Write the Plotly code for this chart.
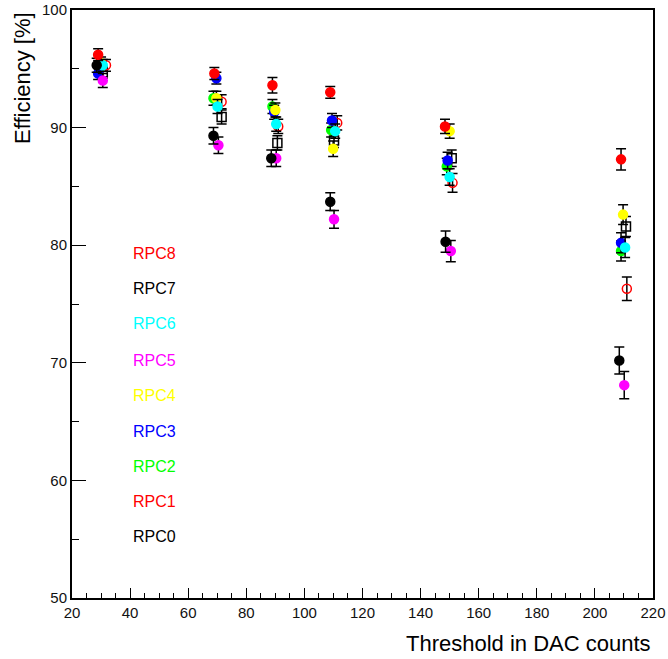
import plotly.graph_objects as go

names = ["RPC8", "RPC7", "RPC6", "RPC5", "RPC4", "RPC3", "RPC2", "RPC1", "RPC0"]
colors = ["#ff0000", "#000000", "#00ffff", "#ff00ff", "#ffff00", "#0000ff", "#00ff00", "#ff0000", "#000000"]
symbols = ["circle", "circle", "circle", "circle", "circle", "circle", "circle", "circle-open", "square-open"]

x_rpc8 = [29.0, 69.0, 89.0, 108.9, 148.4, 209.0]
x_rpc7 = [28.5, 68.7, 88.6, 108.9, 148.6, 208.4]
x_rpc6 = [30.6, 70.1, 90.3, 110.6, 150.0, 210.4]
x_rpc5 = [30.6, 70.4, 90.3, 110.2, 150.4, 210.1]
x_rpc4 = [30.0, 69.7, 90.0, 109.9, 150.0, 209.7]
x_rpc3 = [29.0, 69.7, 89.6, 109.5, 149.3, 209.0]
x_rpc2 = [29.3, 68.7, 89.0, 109.2, 149.0, 209.0]
x_rpc1 = [31.7, 71.5, 91.0, 111.3, 151.0, 211.0]
x_rpc0 = [30.6, 71.5, 90.7, 110.2, 150.7, 210.7]

y_rpc8 = [96.2, 94.6, 93.6, 93.0, 90.1, 87.3]
y_rpc7 = [95.3, 89.3, 87.4, 83.7, 80.3, 70.2]
y_rpc6 = [95.3, 91.8, 90.3, 89.7, 85.8, 79.8]
y_rpc5 = [94.0, 88.5, 87.4, 82.2, 79.5, 68.1]
y_rpc4 = [95.5, 92.5, 91.5, 88.2, 89.7, 82.6]
y_rpc3 = [94.6, 94.2, 91.3, 90.6, 87.2, 80.2]
y_rpc2 = [95.1, 92.5, 91.8, 89.8, 86.7, 79.5]
y_rpc1 = [95.3, 92.2, 90.1, 90.4, 85.3, 76.3]
y_rpc0 = [94.7, 90.9, 88.7, 88.9, 87.4, 81.6]

e_rpc8 = [0.5, 0.5, 0.65, 0.5, 0.6, 0.9]
e_rpc7 = [0.6, 0.7, 0.7, 0.75, 0.9, 1.15]
e_rpc6 = [0.5, 0.6, 0.6, 0.6, 0.7, 0.85]
e_rpc5 = [0.6, 0.7, 0.7, 0.75, 0.9, 1.15]
e_rpc4 = [0.5, 0.6, 0.6, 0.65, 0.6, 0.85]
e_rpc3 = [0.5, 0.5, 0.6, 0.6, 0.7, 0.85]
e_rpc2 = [0.5, 0.6, 0.6, 0.6, 0.7, 0.85]
e_rpc1 = [0.5, 0.6, 0.6, 0.6, 0.8, 1.0]
e_rpc0 = [0.5, 0.6, 0.6, 0.6, 0.7, 0.85]

xs = [x_rpc8, x_rpc7, x_rpc6, x_rpc5, x_rpc4, x_rpc3, x_rpc2, x_rpc1, x_rpc0]
ys = [y_rpc8, y_rpc7, y_rpc6, y_rpc5, y_rpc4, y_rpc3, y_rpc2, y_rpc1, y_rpc0]
es = [e_rpc8, e_rpc7, e_rpc6, e_rpc5, e_rpc4, e_rpc3, e_rpc2, e_rpc1, e_rpc0]

label_x = 40.3
label_y = [79.3, 76.3, 73.3, 70.2, 67.2, 64.2, 61.2, 58.2, 55.2]

font = "Liberation Sans, Arial, Helvetica, sans-serif"

PW, PH = 581, 588
L, T = 72, 10
W, H = 668, 659

fig = go.Figure()
for i in reversed(range(len(names))):
    fig.add_trace(go.Scatter(
        x=xs[i], y=ys[i], mode="markers", name=names[i],
        marker=dict(symbol=symbols[i], color=colors[i], size=9,
                    line=dict(width=1.5, color=colors[i])),
        error_y=dict(type="data", array=es[i], visible=True,
                     color="black", thickness=1.5, width=5),
        showlegend=False,
    ))

for i, n in enumerate(names):
    fig.add_annotation(x=label_x, y=label_y[i], xref="x", yref="y",
                       text=n, showarrow=False, xanchor="left", yanchor="middle",
                       font=dict(family=font, size=16, color=colors[i]))

fig.add_annotation(x=-50 / PW, y=1.0, xref="paper", yref="paper",
                   text="Efficiency [%]", textangle=-90, showarrow=False,
                   xanchor="center", yanchor="top",
                   font=dict(family=font, size=22, color="black"))
fig.add_annotation(x=1.0, y=-45 / PH, xref="paper", yref="paper",
                   text="Threshold in DAC counts", showarrow=False,
                   xanchor="right", yanchor="middle",
                   font=dict(family=font, size=22, color="black"))

fig.update_layout(
    width=W, height=H,
    margin=dict(l=L, r=W - L - PW, t=T, b=H - T - PH),
    paper_bgcolor="white", plot_bgcolor="white",
    font=dict(family=font, size=15, color="#111111"),
)
fig.update_xaxes(range=[20, 220], dtick=20, tick0=20, showline=True, mirror=True,
                 automargin=False,
                 linecolor="black", linewidth=2, ticks="inside", ticklen=10,
                 tickcolor="black", tickwidth=1, showgrid=False, zeroline=False,
                 minor=dict(dtick=5, tick0=20, ticks="inside", ticklen=5, tickcolor="black", showgrid=False))
fig.update_yaxes(range=[50, 100], dtick=10, tick0=50, showline=True, mirror=True,
                 automargin=False,
                 linecolor="black", linewidth=2, ticks="inside", ticklen=14,
                 tickcolor="black", tickwidth=1, showgrid=False, zeroline=False,
                 minor=dict(dtick=5, tick0=50, ticks="inside", ticklen=7, tickcolor="black", showgrid=False))

fig.write_html("out.html", config={"displayModeBar": False},
               post_script="document.body.style.margin='0';")
